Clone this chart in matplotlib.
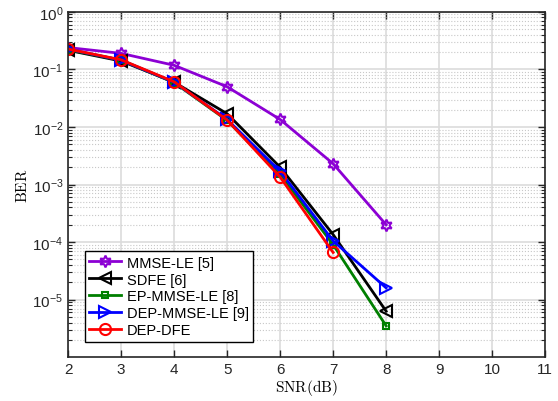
import matplotlib
matplotlib.use('Agg')
import matplotlib.pyplot as plt
from matplotlib.ticker import LogLocator, NullFormatter, FixedLocator

# SNR (dB) points
snr = [2, 3, 4, 5, 6, 7, 8]

# BER curves
ber_mmse_le = [0.24, 0.19, 0.118, 0.050, 0.0135, 0.0023, 2.0e-4]
ber_sdfe = [0.215, 0.14, 0.060, 0.017, 0.0020, 1.35e-4, 6.3e-6]
ber_ep_mmse_le = [0.22, 0.145, 0.059, 0.013, 0.0015, 9.0e-5, 3.5e-6]
ber_dep_mmse_le = [0.225, 0.145, 0.060, 0.0135, 0.0017, 1.05e-4, 1.6e-5]
snr_dep_dfe = [2, 3, 4, 5, 6, 7]
ber_dep_dfe = [0.226, 0.147, 0.061, 0.0132, 0.00135, 6.6e-5]

labels = ['MMSE-LE [5]', 'SDFE [6]', 'EP-MMSE-LE [8]', 'DEP-MMSE-LE [9]', 'DEP-DFE']

plt.rcParams['font.family'] = ['Liberation Sans', 'DejaVu Sans']
plt.rcParams['mathtext.fontset'] = 'custom'
plt.rcParams['mathtext.rm'] = 'Liberation Sans'
plt.rcParams['mathtext.it'] = 'Liberation Sans'

fig = plt.figure(figsize=(5.58, 4.02), dpi=100)
ax = fig.add_axes([0.122, 0.109, 0.855, 0.859])

lw = 2
ax.plot(snr, ber_mmse_le, '-', marker=(6, 1, 0), color='#8c00d4', lw=lw,
        markersize=8.5, markerfacecolor='none', markeredgewidth=1.5, label=labels[0])
ax.plot(snr, ber_sdfe, '-', marker='<', color='black', lw=lw,
        markersize=9, markerfacecolor='none', markeredgewidth=1.5, label=labels[1])
ax.plot(snr, ber_ep_mmse_le, '-', marker='s', color='#007f00', lw=lw,
        markersize=5, markerfacecolor='none', markeredgewidth=1.5, label=labels[2])
ax.plot(snr, ber_dep_mmse_le, '-', marker='>', color='#0000ff', lw=lw,
        markersize=9, markerfacecolor='none', markeredgewidth=1.5, label=labels[3])
ax.plot(snr_dep_dfe, ber_dep_dfe, '-', marker='o', color='#ff0000', lw=lw,
        markersize=8, markerfacecolor='none', markeredgewidth=1.5, label=labels[4])

ax.set_yscale('log')
ax.set_xlim(2, 11)
ax.set_ylim(1e-6, 1)
ax.set_xticks(range(2, 12))
ax.yaxis.set_major_locator(FixedLocator([1e0, 1e-1, 1e-2, 1e-3, 1e-4, 1e-5]))
ax.set_yticklabels([r'$10^{0}$', r'$10^{-1}$', r'$10^{-2}$', r'$10^{-3}$',
                    r'$10^{-4}$', r'$10^{-5}$'])
ax.yaxis.set_minor_locator(LogLocator(base=10, subs=range(2, 10), numticks=20))
ax.yaxis.set_minor_formatter(NullFormatter())

ax.grid(True, which='major', color='#dcdcdc', linestyle='-', linewidth=1.2)
ax.grid(True, which='minor', axis='y', color='#c8c8c8', linestyle=':', linewidth=0.8)
ax.set_axisbelow(True)

ax.tick_params(which='both', direction='in', top=True, right=True, colors='#262626',
               labelcolor='#262626', labelsize=11)
ax.tick_params(which='major', length=5, width=1)
ax.tick_params(which='minor', length=3, width=0.8)
for s in ax.spines.values():
    s.set_color('#262626')
    s.set_linewidth(1.2)

ax.set_xlabel(r'$\mathrm{SNR(dB)}$', fontsize=11, math_fontfamily='cm', labelpad=1)
ax.set_ylabel(r'$\mathrm{BER}$', fontsize=11, math_fontfamily='cm', labelpad=2)

leg = ax.legend(loc='lower left', bbox_to_anchor=(0.035, 0.045), fontsize=10.5,
                fancybox=False, framealpha=1, edgecolor='black', handlelength=2.2,
                borderpad=0.3, labelspacing=0.2, handletextpad=0.4, borderaxespad=0)
leg.get_frame().set_linewidth(1.0)

fig.savefig('out.png', dpi=100)
